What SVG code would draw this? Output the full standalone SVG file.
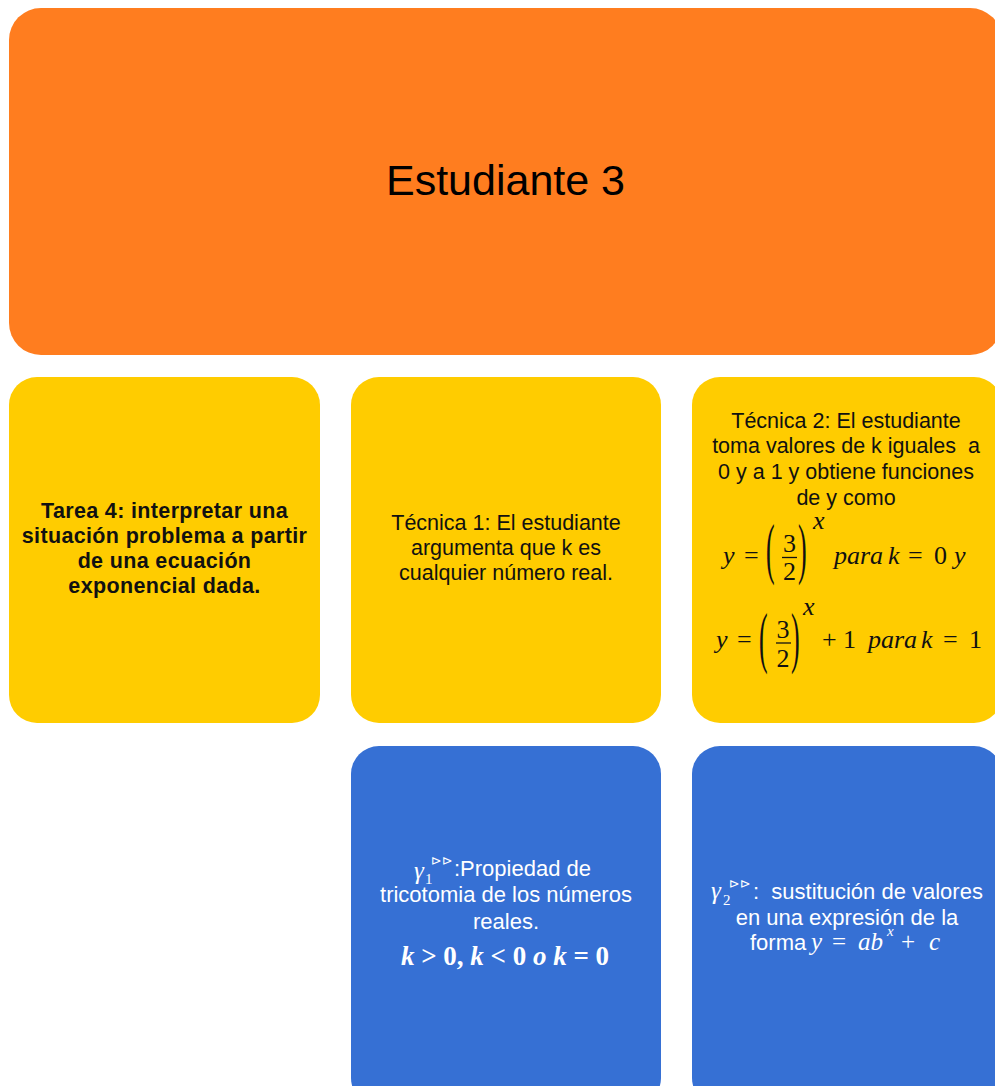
<svg xmlns="http://www.w3.org/2000/svg" width="995" height="1086" viewBox="0 0 995 1086">
<style>
.orange{fill:#FF7D1F}
.yellow{fill:#FFCC00}
.blue{fill:#3670D4}
.sans{font-family:"Liberation Sans",Arial,sans-serif}
.t{font-family:"Liberation Sans",Arial,sans-serif;font-size:21.5px;fill:#111;text-anchor:middle}
.b{font-family:"Liberation Sans",Arial,sans-serif;font-size:21.5px;font-weight:bold;letter-spacing:0.35px;fill:#111;text-anchor:middle}
.w{font-family:"Liberation Sans",Arial,sans-serif;font-size:22px;fill:#fff}
.m{font-family:"Liberation Serif","Times New Roman",serif;font-size:26px;fill:#111}
.mi{font-style:italic}
.wm{font-family:"Liberation Serif","Times New Roman",serif;fill:#fff}
.tri{font-family:"DejaVu Sans",sans-serif;font-size:13px;fill:#fff}
</style>
<rect width="995" height="1086" fill="#fff"/>
<g id="connectors"/>
<g id="estudiante">
<rect class="orange" x="9" y="8" width="993" height="347" rx="32"/>
<text class="sans" x="505.5" y="195" font-size="43" text-anchor="middle" fill="#000">Estudiante 3</text>
</g>
<g id="tarea">
<rect class="yellow" x="9" y="377" width="311" height="346" rx="28"/>
<text class="b"><tspan x="164.5" y="518">Tarea 4: interpretar una</tspan><tspan x="164.5" y="543">situación problema a partir</tspan><tspan x="164.5" y="568">de una ecuación</tspan><tspan x="164.5" y="593">exponencial dada.</tspan></text>
</g>
<g id="tecnica1">
<rect class="yellow" x="351" y="377" width="310" height="346" rx="28"/>
<text class="t"><tspan x="506" y="530">Técnica 1: El estudiante</tspan><tspan x="506" y="555">argumenta que k es</tspan><tspan x="506" y="580">cualquier número real.</tspan></text>
</g>
<g id="tecnica2">
<rect class="yellow" x="692" y="377" width="310" height="346" rx="28"/>
<text class="t"><tspan x="846" y="428">Técnica 2: El estudiante</tspan><tspan x="846" y="453">toma valores de k iguales&#160; a</tspan><tspan x="846" y="479">0 y a 1 y obtiene funciones</tspan><tspan x="846" y="505">de y como</tspan></text>
<text class="m"><tspan class="mi" x="723" y="564">y</tspan><tspan x="744" y="564">=</tspan></text>
<text class="m" transform="translate(766,571) scale(1,2.6)">(</text>
<text class="m" x="789.5" y="552" text-anchor="middle" font-size="27">3</text>
<line x1="782" y1="557.5" x2="797" y2="557.5" stroke="#111" stroke-width="1.3"/>
<text class="m" x="789.5" y="580" text-anchor="middle" font-size="27">2</text>
<text class="m" transform="translate(798,571) scale(1,2.6)">)</text>
<text class="m mi" x="813" y="529" font-size="17">x</text>
<text class="m"><tspan class="mi" x="834" y="564">para</tspan><tspan class="mi" x="888" y="564">k</tspan><tspan x="908" y="564">=</tspan><tspan x="934" y="564">0</tspan><tspan class="mi" x="954" y="564">y</tspan></text>
<text class="m"><tspan class="mi" x="716" y="648">y</tspan><tspan x="737" y="648">=</tspan></text>
<text class="m" transform="translate(759,660) scale(1,2.6)">(</text>
<text class="m" x="783" y="638" text-anchor="middle" font-size="27">3</text>
<line x1="776" y1="643" x2="791" y2="643" stroke="#111" stroke-width="1.3"/>
<text class="m" x="783" y="667" text-anchor="middle" font-size="27">2</text>
<text class="m" transform="translate(791,660) scale(1,2.6)">)</text>
<text class="m mi" x="803" y="615" font-size="17">x</text>
<text class="m"><tspan x="822" y="648">+</tspan><tspan x="843" y="648">1</tspan><tspan class="mi" x="868" y="648">para</tspan><tspan class="mi" x="921" y="648">k</tspan><tspan x="943" y="648">=</tspan><tspan x="969" y="648">1</tspan></text>
</g>
<g id="gamma1">
<rect class="blue" x="351" y="746" width="310" height="360" rx="28"/>
<text class="wm mi" x="414" y="879" font-size="25">γ</text>
<text class="wm" x="425" y="884" font-size="15">1</text>
<text class="tri" x="431" y="865">⊳⊳</text>
<text class="w" x="454" y="876">:Propiedad de</text>
<text class="w" text-anchor="middle"><tspan x="506" y="902">tricotomia de los números</tspan><tspan x="506" y="929">reales.</tspan></text>
<text class="wm" x="505" y="965" font-size="27" font-weight="bold" text-anchor="middle"><tspan font-style="italic">k</tspan> &gt; 0, <tspan font-style="italic">k</tspan> &lt; 0 <tspan font-style="italic">o k</tspan> = 0</text>
</g>
<g id="gamma2">
<rect class="blue" x="692" y="746" width="310" height="360" rx="28"/>
<text class="wm mi" x="711" y="899" font-size="25">γ</text>
<text class="wm" x="723" y="905" font-size="15">2</text>
<text class="tri" x="729" y="888">⊳⊳</text>
<text class="w" x="753" y="899">:&#160; sustitución de valores</text>
<text class="w" x="847" y="925" text-anchor="middle">en una expresión de la</text>
<text class="w" x="750" y="950">forma</text>
<text class="wm" font-size="25"><tspan class="mi" x="811" y="950">y</tspan><tspan x="832" y="950">=</tspan><tspan class="mi" x="858" y="950">ab</tspan><tspan x="901" y="950">+</tspan><tspan class="mi" x="929" y="950">c</tspan></text>
<text class="wm mi" x="887" y="936" font-size="15">x</text>
</g>
</svg>
